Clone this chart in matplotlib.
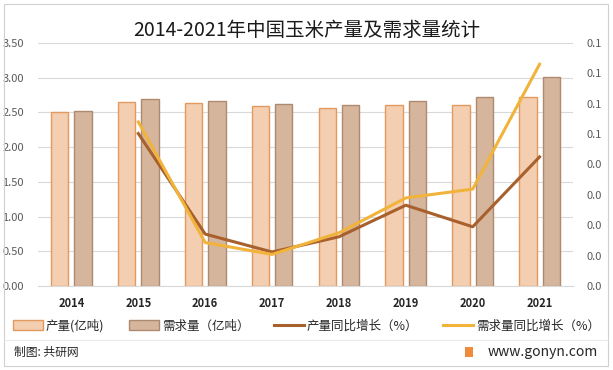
import matplotlib
matplotlib.use("Agg")
import matplotlib.pyplot as plt
import numpy as np
from matplotlib.patches import Rectangle, Patch
from matplotlib.lines import Line2D

plt.rcParams['font.family'] = ['Noto Sans CJK SC', 'DejaVu Sans']

years = ['2014', '2015', '2016', '2017', '2018', '2019', '2020', '2021']
production = [2.50, 2.65, 2.63, 2.59, 2.57, 2.61, 2.61, 2.72]
demand = [2.52, 2.69, 2.66, 2.62, 2.61, 2.66, 2.72, 3.01]
prod_growth = [np.nan, 0.0502, 0.0171, 0.0112, 0.0162, 0.0266, 0.0195, 0.0425]
demand_growth = [np.nan, 0.0540, 0.0143, 0.0104, 0.0175, 0.0290, 0.0319, 0.0730]

left_ticks = [0.0, 0.5, 1.0, 1.5, 2.0, 2.5, 3.0, 3.5]
right_ticks = [0.0, 0.01, 0.02, 0.03, 0.04, 0.05, 0.06, 0.07, 0.08]
right_labels = ['0.0', '0.0', '0.0', '0.0', '0.0', '0.1', '0.1', '0.1', '0.1']

c_prod_fill = '#F4CEB1'
c_prod_edge = '#E29A5E'
c_dem_fill = '#D5B59C'
c_dem_edge = '#AE8A70'
c_prod_line = '#A8602D'
c_dem_line = '#F2B33A'

fig = plt.figure(figsize=(6.13, 3.70), dpi=100)
fig.patch.set_facecolor('white')
ax = fig.add_axes([38/613, 1-286/370, (573-38)/613, (286-43)/370])

x = np.arange(len(years))
w = 0.26
off = 0.175
ax.bar(x - off, production, w, color=c_prod_fill, edgecolor=c_prod_edge, linewidth=1.0, zorder=2)
ax.bar(x + off, demand, w, color=c_dem_fill, edgecolor=c_dem_edge, linewidth=1.0, zorder=2)
ax.set_xlim(-0.5, len(years) - 0.5)
ax.set_ylim(0, 3.5)
ax.set_yticks(left_ticks)
ax.set_yticklabels([f'{v:.2f}' for v in left_ticks])
ax.yaxis.grid(True, color='#D9D9D9', linewidth=0.8, zorder=0)
ax.set_axisbelow(True)
for s in ax.spines.values():
    s.set_visible(False)
ax.spines['bottom'].set_visible(True)
ax.spines['bottom'].set_color('#D9D9D9')
ax.tick_params(axis='both', length=0)
ax.tick_params(axis='y', labelsize=8, labelcolor='#595959', pad=2)
ax.set_xticks(x)
ax.set_xticklabels(years, fontsize=8, fontweight='bold', color='#262626')
ax.tick_params(axis='x', pad=8)
for lab in ax.get_yticklabels():
    lab.set_horizontalalignment('left')
    lab.set_x(-33/535)

ax2 = ax.twinx()
ax2.plot(x, prod_growth, color=c_prod_line, linewidth=2.2, zorder=3)
ax2.plot(x, demand_growth, color=c_dem_line, linewidth=2.2, zorder=3)
ax2.set_ylim(0, 0.08)
ax2.set_yticks(right_ticks)
ax2.set_yticklabels(right_labels)
ax2.tick_params(axis='y', length=0, labelsize=8, labelcolor='#595959', pad=10)
for s in ax2.spines.values():
    s.set_visible(False)

fig.text(0.5, 1-30/370, '2014-2021年中国玉米产量及需求量统计', ha='center', va='center',
         fontsize=14, color='#1a1a1a')

handles = [
    Patch(facecolor=c_prod_fill, edgecolor=c_prod_edge, linewidth=1.0),
    Patch(facecolor=c_dem_fill, edgecolor=c_dem_edge, linewidth=1.0),
    Line2D([0], [0], color=c_prod_line, linewidth=2.2),
    Line2D([0], [0], color=c_dem_line, linewidth=2.2),
]
labels = ['产量(亿吨)', '需求量（亿吨）', '产量同比增长（%）', '需求量同比增长（%）']
fig.legend(handles, labels, loc='center', bbox_to_anchor=(0.5, 1-326/370), ncol=4,
           frameon=False, fontsize=9, handlelength=2.4, handleheight=0.85,
           columnspacing=2.0, handletextpad=0.2, labelcolor='#262626')

fig.text(14/613, 1-352/370, '制图: 共研网', ha='left', va='center', fontsize=8.5, color='#262626')
fig.text(598/613, 1-352/370, 'www.gonyn.com', ha='right', va='center', fontsize=10, color='#262626')
fig.patches.append(Rectangle((465/613, 1-357/370), 8/613, 10/370, transform=fig.transFigure,
                             facecolor='#F08A3C', edgecolor='none'))

fig.patches.append(Rectangle((4/613, 4/370), 604/613, 362/370, transform=fig.transFigure,
                             facecolor='none', edgecolor='#D0D0D0', linewidth=0.8))
fig.add_artist(Line2D([4/613, 608/613], [1-340/370, 1-340/370], transform=fig.transFigure,
                      color='#E6E6E6', linewidth=0.6))

fig.savefig('out.png', dpi=100)
